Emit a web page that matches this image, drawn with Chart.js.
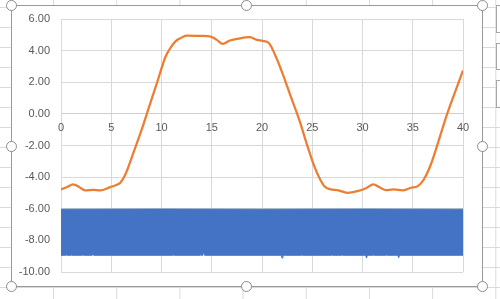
<!DOCTYPE html>
<html>
<head>
<meta charset="utf-8">
<script src="https://cdn.jsdelivr.net/npm/chart.js@4.4.1/dist/chart.umd.min.js"></script>
<style>
  html, body { margin: 0; padding: 0; }
  body {
    width: 500px; height: 299px; overflow: hidden; position: relative;
    background-color: #fff;
    background-image:
      linear-gradient(to right, #dadada 1px, transparent 1px),
      linear-gradient(to bottom, #dadada 1px, transparent 1px);
    background-size: 63.2px 20px;
    background-position: 53px 7px;
  }
  #frame {
    position: absolute; left: 11px; top: 5px; width: 470px; height: 280px;
    border: 1.5px solid #999; background: #fff;
  }
  #chart { position: absolute; left: 0; top: 0; }
  .handle {
    position: absolute; width: 9px; height: 9px; border-radius: 50%;
    border: 1.5px solid #8c8c8c; background: #fff;
  }
  .btn {
    position: absolute; left: 496px; width: 20px;
    border: 1px solid #a6a6a6; background: #fff;
  }
</style>
</head>
<body>
<div id="frame"></div>
<canvas id="chart" width="500" height="299"></canvas>
<div class="btn" style="top:5px;height:26px"></div>
<div class="btn" style="top:43px;height:25px"></div>
<div class="btn" style="top:80px;height:26px"></div>
<script>
// orange curve
const orangeX = [0, 0.6, 1.2, 1.8, 2.4, 3.2, 3.9, 4.9, 5.5, 5.9, 6.4, 7.2, 8.05, 8.7, 9.54, 10.4, 10.87, 11.37, 11.86, 12.5, 13.9, 14.9, 15.5, 16.1, 16.8, 17.5, 18.8, 19.5, 20.04, 20.7, 21.37, 22.03, 22.86, 23.7, 24.53, 25.2, 25.7, 26.2, 26.85, 27.5, 28.5, 29.5, 30.3, 31.1, 31.6, 32.3, 33.1, 34.0, 34.8, 35.5, 36.1, 36.8, 37.3, 38.4, 39.3, 40];
const orangeY = [-4.78, -4.62, -4.46, -4.62, -4.84, -4.80, -4.84, -4.63, -4.5, -4.36, -3.83, -2.47, -0.95, 0.31, 1.94, 3.61, 4.15, 4.57, 4.78, 4.95, 4.93, 4.89, 4.68, 4.43, 4.64, 4.74, 4.85, 4.68, 4.62, 4.47, 3.63, 2.58, 1.1, -0.37, -2.05, -3.31, -4.04, -4.57, -4.78, -4.82, -4.99, -4.89, -4.72, -4.46, -4.61, -4.82, -4.78, -4.84, -4.67, -4.57, -4.15, -3.2, -2.26, -0.05, 1.53, 2.75];

// blue signal: upper and lower envelope of the dense trace
const blueTopX = [0, 10, 20, 30, 40];
const blueTopY = [-6.03, -6.02, -6.03, -6.02, -6.03];
const blueBottomX = [0, 0.55, 0.6, 0.65, 1.05, 1.1, 1.15, 2.15, 2.2, 2.25, 3.12, 3.2, 3.28, 11.15, 11.2, 11.25, 13.85, 13.9, 13.95, 14.12, 14.2, 14.28, 21.92, 22.0, 22.08, 23.95, 24.0, 24.05, 26.95, 27.0, 27.05, 27.95, 28.0, 28.05, 30.32, 30.4, 30.48, 31.05, 31.1, 31.15, 32.35, 32.4, 32.45, 33.52, 33.6, 33.68, 40];
const blueBottomY = [-8.94, -8.94, -8.80, -8.94, -8.94, -8.82, -8.94, -8.94, -8.80, -8.94, -8.94, -8.68, -8.94, -8.94, -8.80, -8.94, -8.94, -8.78, -8.94, -8.94, -8.66, -8.94, -8.94, -9.12, -8.94, -8.94, -8.78, -8.94, -8.94, -8.80, -8.94, -8.94, -8.78, -8.94, -8.94, -9.12, -8.94, -8.94, -8.78, -8.94, -8.94, -8.80, -8.94, -8.94, -9.10, -8.94, -8.94];

const xTicks = [0, 5, 10, 15, 20, 25, 30, 35, 40];
const yTicks = [-10, -8, -6, -4, -2, 0, 2, 4, 6];

const toPoints = (xs, ys) => xs.map((x, i) => ({ x: x, y: ys[i] }));
const labelFont = { family: 'Liberation Sans', size: 11 };

new Chart(document.getElementById('chart').getContext('2d'), {
  type: 'scatter',
  data: {
    datasets: [
      {
        data: toPoints(orangeX, orangeY),
        showLine: true,
        borderColor: '#ED7D31',
        borderWidth: 2.25,
        pointRadius: 0,
        cubicInterpolationMode: 'monotone',
      },
      {
        data: toPoints(blueBottomX, blueBottomY),
        showLine: true,
        borderColor: '#4472C4',
        borderWidth: 1,
        pointRadius: 0,
        fill: false,
      },
      {
        data: toPoints(blueTopX, blueTopY),
        showLine: true,
        borderColor: '#4472C4',
        backgroundColor: '#4472C4',
        borderWidth: 1,
        pointRadius: 0,
        fill: '-1',
      },
    ],
  },
  options: {
    responsive: false,
    animation: false,
    layout: { padding: { left: 0, right: 37, top: 19, bottom: 27 } },
    plugins: { legend: { display: false }, tooltip: { enabled: false } },
    scales: {
      x: {
        type: 'linear',
        position: { y: 0 },
        min: 0,
        max: 40,
        afterBuildTicks: (s) => { s.ticks = xTicks.map(v => ({ value: v })); },
        ticks: { color: '#595959', font: labelFont, padding: 7, maxRotation: 0 },
        grid: { color: '#d9d9d9', drawTicks: false },
        border: { color: '#cfcfcf' },
      },
      y: {
        min: -10,
        max: 6,
        afterBuildTicks: (s) => { s.ticks = yTicks.map(v => ({ value: v })); },
        afterFit: (s) => { s.width = 61; },
        ticks: { color: '#595959', font: labelFont, padding: 11, callback: (v) => v.toFixed(2) },
        grid: { color: '#d9d9d9', drawTicks: false },
        border: { display: false },
      },
    },
  },
});

// selection handles on the chart frame
[[12, 6], [247, 6], [483, 6], [12, 147], [483, 147], [12, 287], [247, 287], [483, 287]].forEach(([cx, cy]) => {
  const h = document.createElement('div');
  h.className = 'handle';
  h.style.left = (cx - 6) + 'px';
  h.style.top = (cy - 6) + 'px';
  document.body.appendChild(h);
});
</script>
</body>
</html>
